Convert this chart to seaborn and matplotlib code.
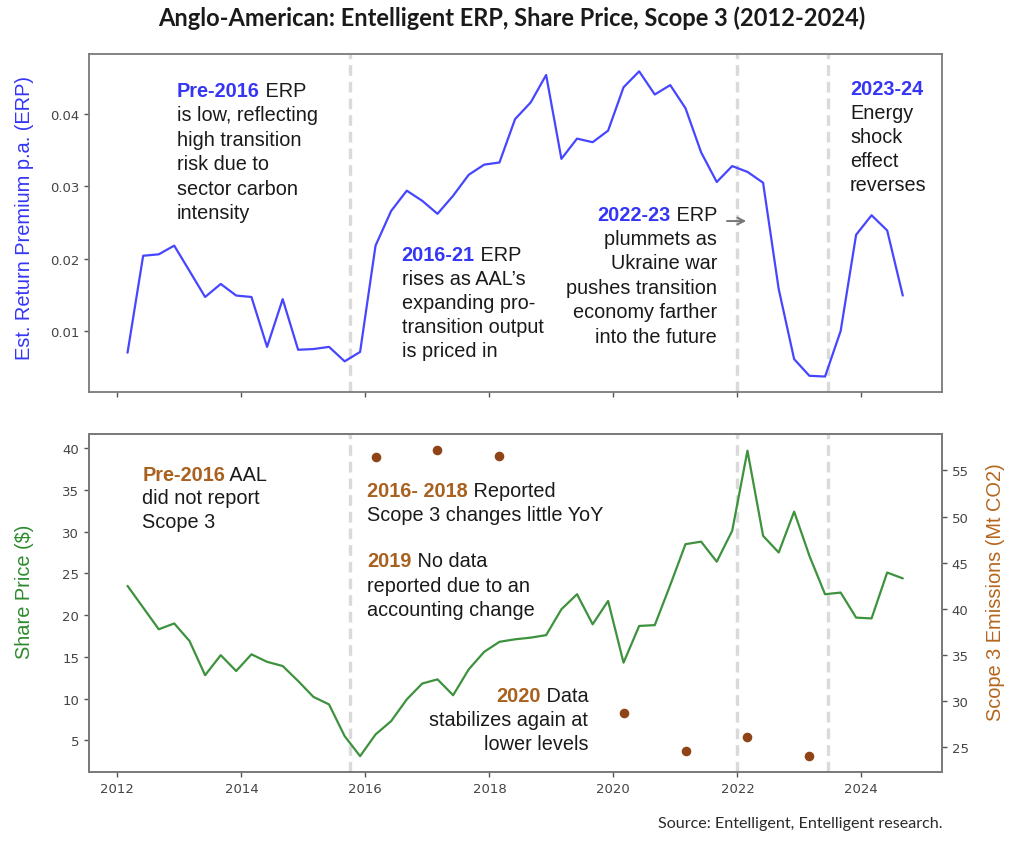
import numpy as np
import pandas as pd
import matplotlib
matplotlib.use("Agg")
import matplotlib.pyplot as plt
import matplotlib.dates as mdates
from matplotlib.ticker import MultipleLocator
import seaborn as sns

# ---------------- data ----------------
quarters = pd.date_range("2012-03-01", periods=51, freq="3MS")
erp = [0.0070, 0.0204, 0.0206, 0.0218, 0.0183, 0.0147, 0.0165, 0.0149, 0.0147, 0.0078,
       0.0144, 0.0074, 0.0075, 0.0078, 0.0058, 0.0071, 0.0218, 0.0266, 0.0294, 0.0280,
       0.0262, 0.0287, 0.0316, 0.0330, 0.0333, 0.0393, 0.0416, 0.0454, 0.0338, 0.0366,
       0.0361, 0.0377, 0.0437, 0.0459, 0.0427, 0.0440, 0.0408, 0.0347, 0.0306, 0.0328,
       0.0320, 0.0305, 0.0158, 0.0061, 0.0038, 0.0037, 0.0100, 0.0233, 0.0260, 0.0239,
       0.0149]
share_price = [23.5, 20.9, 18.3, 19.0, 16.9, 12.8, 15.2, 13.3, 15.3, 14.4,
               13.9, 12.1, 10.2, 9.3, 5.5, 3.1, 5.7, 7.3, 9.9, 11.8,
               12.3, 10.4, 13.5, 15.6, 16.8, 17.1, 17.3, 17.6, 20.7, 22.5,
               18.9, 21.7, 14.3, 18.7, 18.8, 23.6, 28.5, 28.8, 26.4, 30.1,
               39.7, 29.5, 27.5, 32.4, 27.1, 22.5, 22.7, 19.7, 19.6, 25.1,
               24.4]
scope3_dates = pd.to_datetime(["2016-03-01", "2017-03-01", "2018-03-01", "2020-03-01",
                               "2021-03-01", "2022-03-01", "2023-03-01"])
scope3 = [56.5, 57.2, 56.6, 28.7, 24.6, 26.1, 24.0]
event_dates = pd.to_datetime(["2015-10-01", "2022-01-01", "2023-06-20"])

df = pd.DataFrame({"date": quarters, "erp": erp, "price": share_price})
df_s3 = pd.DataFrame({"date": scope3_dates, "scope3": scope3})

# ---------------- style ----------------
sns.set_theme(style="ticks")
plt.rcParams["font.family"] = ["DejaVu Sans"]
plt.rcParams.update({
    "axes.edgecolor": "#7a7a7a",
    "axes.linewidth": 1.3,
    "xtick.color": "#555555",
    "ytick.color": "#555555",
    "xtick.labelcolor": "#444444",
    "ytick.labelcolor": "#444444",
    "xtick.labelsize": 9.5,
    "ytick.labelsize": 9.5,
    "xtick.major.size": 3.5,
    "ytick.major.size": 3.5,
    "xtick.major.width": 1.0,
    "ytick.major.width": 1.0,
})

BLUE_LINE = "#4646ff"
GREEN_LINE = "#3d923d"
BLUE_TXT = "#3535f5"
BROWN_TXT = "#a8611f"
BROWN_LBL = "#b5661d"
DOT = "#8e4416"
GRID_V = "#dadada"
ANN = "Liberation Sans"
FS = 14.3

fig = plt.figure(figsize=(10.24, 8.53), dpi=100)
W, H = 1024, 853
left, right = 89 / W, 942 / W
ax1 = fig.add_axes([left, 1 - 393 / H, right - left, (393 - 55) / H])
ax2 = fig.add_axes([left, 1 - 773 / H, right - left, (773 - 435) / H], sharex=ax1)
ax3 = ax2.twinx()

# ---------------- plots ----------------
sns.lineplot(data=df, x="date", y="erp", ax=ax1, color=BLUE_LINE, linewidth=1.6)
sns.lineplot(data=df, x="date", y="price", ax=ax2, color=GREEN_LINE, linewidth=1.6)
sns.scatterplot(data=df_s3, x="date", y="scope3", ax=ax3, color=DOT, s=48,
                edgecolor=DOT, linewidth=0, zorder=5)

for ax in (ax1, ax2):
    for d in event_dates:
        ax.axvline(d, color=GRID_V, linewidth=2.4, linestyle=(0, (3.2, 1.8)), zorder=0)

# axes settings
ax1.xaxis.set_major_locator(mdates.YearLocator(2))
ax1.xaxis.set_major_formatter(mdates.DateFormatter("%Y"))
plt.setp(ax1.get_xticklabels(), visible=False)
ax1.set_xlabel("")
ax2.set_xlabel("")
ax3.set_xlabel("")
ax2.yaxis.set_major_locator(MultipleLocator(5))
ax3.yaxis.set_major_locator(MultipleLocator(5))
ax1.yaxis.set_major_locator(MultipleLocator(0.01))
ax1.set_ylim(0.00156, 0.0483)
ax2.set_ylim(1.2, 41.7)
ax3.set_ylim(22.3, 58.95)
ax1.set_xlim(pd.Timestamp("2011-07-18"), pd.Timestamp("2025-04-20"))

for ax in (ax1, ax2, ax3):
    for s in ax.spines.values():
        s.set_visible(True)
        s.set_color("#7a7a7a")
        s.set_linewidth(1.3)

ax1.set_ylabel("Est. Return Premium p.a. (ERP)", color=BLUE_TXT, fontsize=14.4, family=ANN)
ax1.yaxis.set_label_coords(-0.0645, 0.519)
ax2.set_ylabel("Share Price ($)", color="#2e8b2e", fontsize=14.4, family=ANN)
ax2.yaxis.set_label_coords(-0.0645, 0.5355)
ax3.set_ylabel("Scope 3 Emissions (Mt CO2)", color=BROWN_LBL, fontsize=14.4, family=ANN)
ax3.yaxis.set_label_coords(1.052, 0.5355)


# ---------------- annotations ----------------
def block(ax, fx, fy, head, rest, lines, color, pitch_px=24.4, align="left"):
    pitch = pitch_px * 0.72
    if align == "left":
        t = ax.annotate(head, xy=(fx, fy), xycoords="axes fraction", ha="left",
                        va="center_baseline", fontsize=FS, family=ANN,
                        color=color, fontweight="bold")
        ax.annotate(rest, xy=(1, 0), xycoords=t, ha="left", va="bottom",
                    fontsize=FS, family=ANN, color="#1a1a1a")
    else:
        t = ax.annotate(rest, xy=(fx, fy), xycoords="axes fraction", ha="right",
                        va="center_baseline", fontsize=FS, family=ANN, color="#1a1a1a")
        ax.annotate(head, xy=(0, 0), xycoords=t, ha="right", va="bottom",
                    fontsize=FS, family=ANN, color=color, fontweight="bold")
    for i, ln in enumerate(lines, start=1):
        ax.annotate(ln, xy=(fx, fy), xycoords="axes fraction",
                    xytext=(0, -i * pitch), textcoords="offset points",
                    ha=align, va="center_baseline", fontsize=FS, family=ANN,
                    color="#1a1a1a")


block(ax1, 0.1032, 0.8985, "Pre-2016", " ERP",
      ["is low, reflecting", "high transition", "risk due to", "sector carbon", "intensity"],
      BLUE_TXT, 24.5)
block(ax1, 0.3665, 0.4133, "2016-21", " ERP",
      ["rises as AAL\u2019s", "expanding pro-", "transition output", "is priced in"],
      BLUE_TXT, 24.0)
block(ax1, 0.7362, 0.5325, "2022-23", " ERP",
      ["plummets as", "Ukraine war", "pushes transition", "economy farther", "into the future"],
      BLUE_TXT, 24.4, align="right")
block(ax1, 0.8921, 0.9033, "2023-24", "",
      ["Energy", "shock", "effect", "reverses"],
      BLUE_TXT, 24.0)

ax1.annotate("", xy=(pd.Timestamp("2022-03-10"), 0.0252),
             xytext=(pd.Timestamp("2021-10-15"), 0.0252),
             arrowprops=dict(arrowstyle="->", color="#777777", lw=1.4))

block(ax2, 0.0625, 0.8867, "Pre-2016", " AAL",
      ["did not report", "Scope 3"], BROWN_TXT, 23.5)
block(ax2, 0.3262, 0.8373, "2016- 2018", " Reported",
      ["Scope 3 changes little YoY"], BROWN_TXT, 24.0)
block(ax2, 0.3262, 0.6302, "2019", " No data",
      ["reported due to an", "accounting change"], BROWN_TXT, 24.2)
block(ax2, 0.5853, 0.2308, "2020", " Data",
      ["stabilizes again at", "lower levels"], BROWN_TXT, 24.0, align="right")

# ---------------- title and source ----------------
fig.text(0.5, 1 - 18 / H, "Anglo-American: Entelligent ERP, Share Price, Scope 3 (2012-2024)",
         ha="center", va="center", fontsize=17, fontweight="bold", family="Lato", color="#1a1a1a")
fig.text(943 / W, 1 - 824 / H, "Source: Entelligent, Entelligent research.",
         ha="right", va="center", fontsize=11.6, family="Lato", color="#2a2a2a")

fig.savefig("out.png", dpi=100, facecolor="white")
